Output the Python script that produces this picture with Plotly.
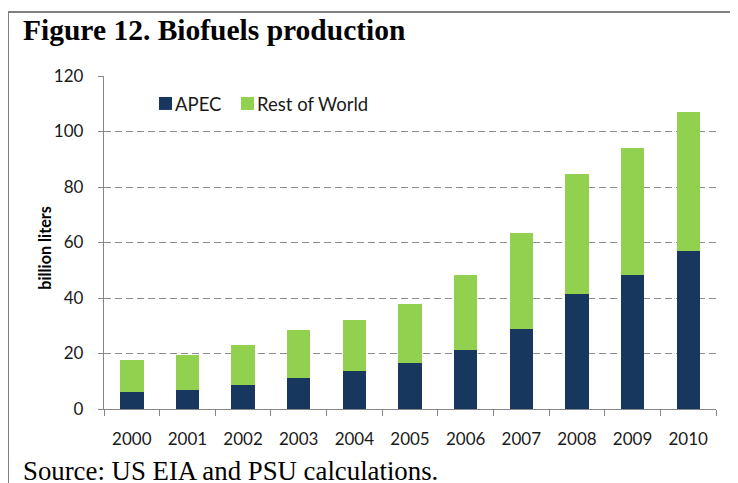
import plotly.graph_objects as go

years = ["2000", "2001", "2002", "2003", "2004", "2005", "2006", "2007", "2008", "2009", "2010"]
apec = [6.3, 6.8, 8.5, 11.2, 13.8, 16.7, 21.4, 28.9, 41.5, 48.2, 56.9]
rest_of_world = [11.5, 12.6, 14.6, 17.4, 18.1, 21.2, 26.8, 34.5, 43.3, 45.8, 50.2]
y_ticks = [0, 20, 40, 60, 80, 100, 120]

# page body has an 8px margin; figure sized so it fills the rest of the window
OFF = 8
W, H = 730, 475
L, R, T, B = 96, 22, 68, 73.5
PW, PH = W - L - R, H - T - B


def px(x):  # reference-window pixel -> paper
    return (x - OFF - L) / PW


def py(y):
    return (H - B - (y - OFF)) / PH


NAVY = "#17375E"
GREEN = "#92D050"
AX = "#868686"
TXT = "#1a1a1a"

fig = go.Figure()
fig.add_trace(go.Bar(x=years, y=apec, name="APEC", marker=dict(color=NAVY, line=dict(width=0))))
fig.add_trace(go.Bar(x=years, y=rest_of_world, name="Rest of World",
                     marker=dict(color=GREEN, line=dict(width=0))))

fig.update_layout(
    width=W, height=H,
    margin=dict(l=L, r=R, t=T, b=B),
    barmode="stack", bargap=0.58,
    showlegend=False,
    plot_bgcolor="white", paper_bgcolor="white",
    font=dict(family="Lato", size=17, color=TXT),
)
fig.update_yaxes(
    range=[0, 120], tickvals=y_ticks, showgrid=True, gridcolor="#8c8c8c", gridwidth=1.3,
    griddash="7px,4px", zeroline=False, showline=True, linecolor=AX, linewidth=1.3,
    ticks="outside", ticklen=5, tickcolor=AX, ticklabelstandoff=11,
    tickfont=dict(family="Lato", size=17, color=TXT),
)
fig.update_xaxes(
    showline=True, linecolor=AX, linewidth=1.3, ticks="outside", ticklen=6, tickcolor=AX,
    tickson="boundaries", showgrid=False, ticklabelstandoff=14,
    tickfont=dict(family="Lato", size=17, color=TXT),
)

# figure frame
fig.add_shape(type="rect", xref="paper", yref="paper", x0=px(8), x1=px(760), y0=py(12), y1=py(500),
              line=dict(color="#808080", width=2), fillcolor="rgba(0,0,0,0)", layer="below")

# y-axis title
fig.add_annotation(xref="paper", yref="paper", x=px(45), y=py(248), xanchor="center", yanchor="middle",
                   text="<b>billion liters</b>", textangle=-90, showarrow=False,
                   font=dict(family="Lato", size=16.2, color="black"))

# title and source
fig.add_annotation(xref="paper", yref="paper", x=px(21), y=py(30), xanchor="left", yanchor="middle",
                   text="<b>Figure 12. Biofuels production</b>", showarrow=False,
                   font=dict(family="Liberation Serif", size=29.5, color="black"))
fig.add_annotation(xref="paper", yref="paper", x=px(21), y=py(472), xanchor="left", yanchor="middle",
                   text="Source: US EIA and PSU calculations.", showarrow=False,
                   font=dict(family="Liberation Serif", size=26.8, color="black"))

# legend
for x0, col, label in [(159, NAVY, "APEC"), (241, GREEN, "Rest of World")]:
    fig.add_shape(type="rect", xref="paper", yref="paper", x0=px(x0), x1=px(x0 + 13),
                  y0=py(97), y1=py(110), line=dict(width=0), fillcolor=col)
    fig.add_annotation(xref="paper", yref="paper", x=px(x0 + 14), y=py(104), xanchor="left",
                       yanchor="middle", text=label, showarrow=False,
                       font=dict(family="Lato", size=18.5, color=TXT))

fig.write_html("out.html")
